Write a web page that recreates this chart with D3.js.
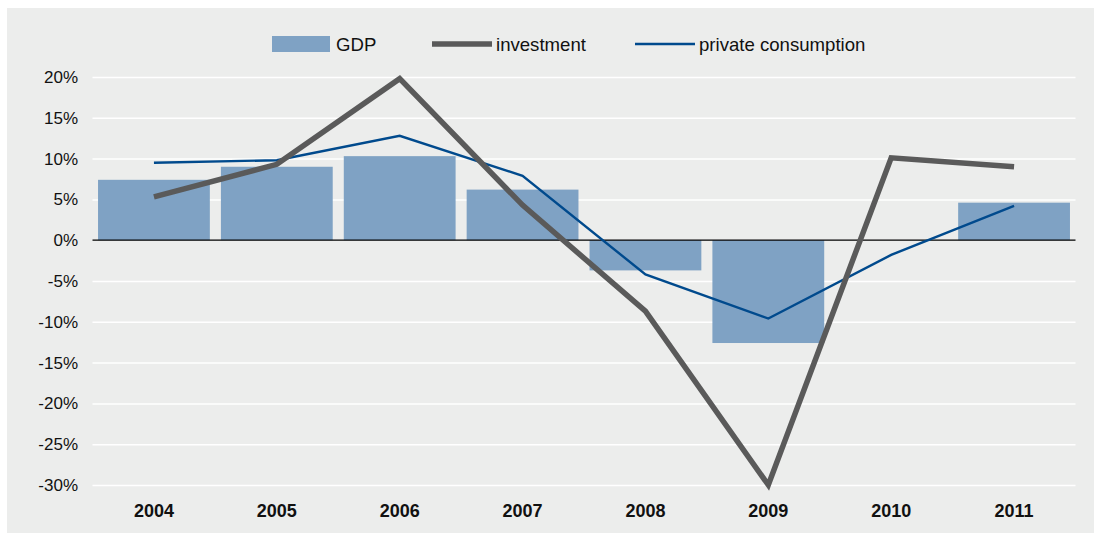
<!DOCTYPE html>
<html>
<head>
<meta charset="utf-8">
<script src="https://cdn.jsdelivr.net/npm/d3@7"></script>
<style>
  html, body { margin: 0; padding: 0; background: #ffffff; }
  svg { display: block; }
  text { font-family: "Liberation Sans", Arial, Helvetica, sans-serif; fill: #111; }
</style>
</head>
<body>
<svg id="chart" width="1094" height="533"></svg>
<script>
// Annual growth rates, % change on previous year
const years = ["2004", "2005", "2006", "2007", "2008", "2009", "2010", "2011"];
const gdp = [7.4, 9.0, 10.3, 6.2, -3.7, -12.6, null, 4.6];
const investment = [5.3, 9.3, 19.8, 4.3, -8.7, -30.0, 10.1, 9.0];
const consumption = [9.5, 9.8, 12.8, 7.9, -4.2, -9.6, -1.8, 4.2];
const yTicks = [20, 15, 10, 5, 0, -5, -10, -15, -20, -25, -30];
const legendItems = [
  { label: "GDP", kind: "bar" },
  { label: "investment", kind: "invest" },
  { label: "private consumption", kind: "cons" }
];

const W = 1094, H = 533;
const plot = { left: 92.5, right: 1075.5, top: 77, bottom: 485 };
const colors = { panel: "#ecedec", bar: "#7fa2c4", invest: "#5a5a5a", cons: "#004a8d", grid: "#ffffff" };

const svg = d3.select("#chart");

// panel background
svg.append("rect")
  .attr("x", 7).attr("y", 8)
  .attr("width", W - 7).attr("height", H - 8)
  .attr("fill", colors.panel);

const x = d3.scaleBand()
  .domain(years)
  .range([plot.left, plot.right])
  .paddingInner(0.09)
  .paddingOuter(0.045);

const y = d3.scaleLinear()
  .domain([-30, 20])
  .range([plot.bottom, plot.top]);

// horizontal gridlines and y labels
const yAxis = d3.axisLeft(y)
  .tickValues(yTicks)
  .tickSize(0)
  .tickPadding(0)
  .tickFormat(d => d + "%");

const gy = svg.append("g")
  .attr("transform", `translate(${plot.left},0)`)
  .call(yAxis);
gy.select(".domain").remove();
gy.selectAll(".tick text")
  .attr("x", -14.5)
  .attr("font-size", 17)
  .style("font-family", "'Liberation Sans', Arial, sans-serif")
  .attr("fill", "#111");
gy.selectAll(".tick").append("line")
  .attr("x1", 0).attr("x2", plot.right - plot.left)
  .attr("stroke", d => d === 0 ? "none" : colors.grid)
  .attr("stroke-width", 1.5);

// GDP bars
svg.append("g").selectAll("rect")
  .data(years.map((yr, i) => ({ yr, v: gdp[i] })).filter(d => d.v !== null))
  .join("rect")
  .attr("x", d => x(d.yr))
  .attr("width", x.bandwidth())
  .attr("y", d => y(Math.max(0, d.v)))
  .attr("height", d => Math.abs(y(d.v) - y(0)))
  .attr("fill", colors.bar);

// zero line
svg.append("line")
  .attr("x1", plot.left).attr("x2", plot.right)
  .attr("y1", y(0)).attr("y2", y(0))
  .attr("stroke", "#000").attr("stroke-width", 1.2);

const lineGen = d3.line()
  .x((d, i) => x(years[i]) + x.bandwidth() / 2)
  .y(d => y(d));

svg.append("path")
  .datum(consumption)
  .attr("d", lineGen)
  .attr("fill", "none")
  .attr("stroke", colors.cons)
  .attr("stroke-width", 2.4)
  .attr("stroke-linejoin", "miter");

svg.append("path")
  .datum(investment)
  .attr("d", lineGen)
  .attr("fill", "none")
  .attr("stroke", colors.invest)
  .attr("stroke-width", 5.5)
  .attr("stroke-linejoin", "miter");

// x axis labels
const xAxis = d3.axisBottom(x).tickSize(0).tickPadding(0);
const gx = svg.append("g")
  .attr("transform", `translate(0,${plot.bottom})`)
  .call(xAxis);
gx.select(".domain").remove();
gx.selectAll(".tick text")
  .attr("y", 31.5)
  .attr("dy", 0)
  .attr("font-size", 18)
  .attr("font-weight", "bold")
  .style("font-family", "'Liberation Sans', Arial, sans-serif")
  .attr("fill", "#111");

// legend
const legendPos = [272, 432, 635];
const lg = svg.append("g");
legendItems.forEach((item, i) => {
  const g = lg.append("g").attr("transform", `translate(${legendPos[i]},44)`);
  if (item.kind === "bar") {
    g.append("rect").attr("x", 0).attr("y", -8).attr("width", 58).attr("height", 16).attr("fill", colors.bar);
  } else {
    const stroke = item.kind === "invest" ? colors.invest : colors.cons;
    const sw = item.kind === "invest" ? 5.5 : 2.4;
    g.append("line").attr("x1", 0).attr("x2", 60).attr("y1", 0).attr("y2", 0)
      .attr("stroke", stroke).attr("stroke-width", sw);
  }
  g.append("text").attr("x", 64).attr("y", 6.5).attr("font-size", 18.6).text(item.label);
});
</script>
</body>
</html>
